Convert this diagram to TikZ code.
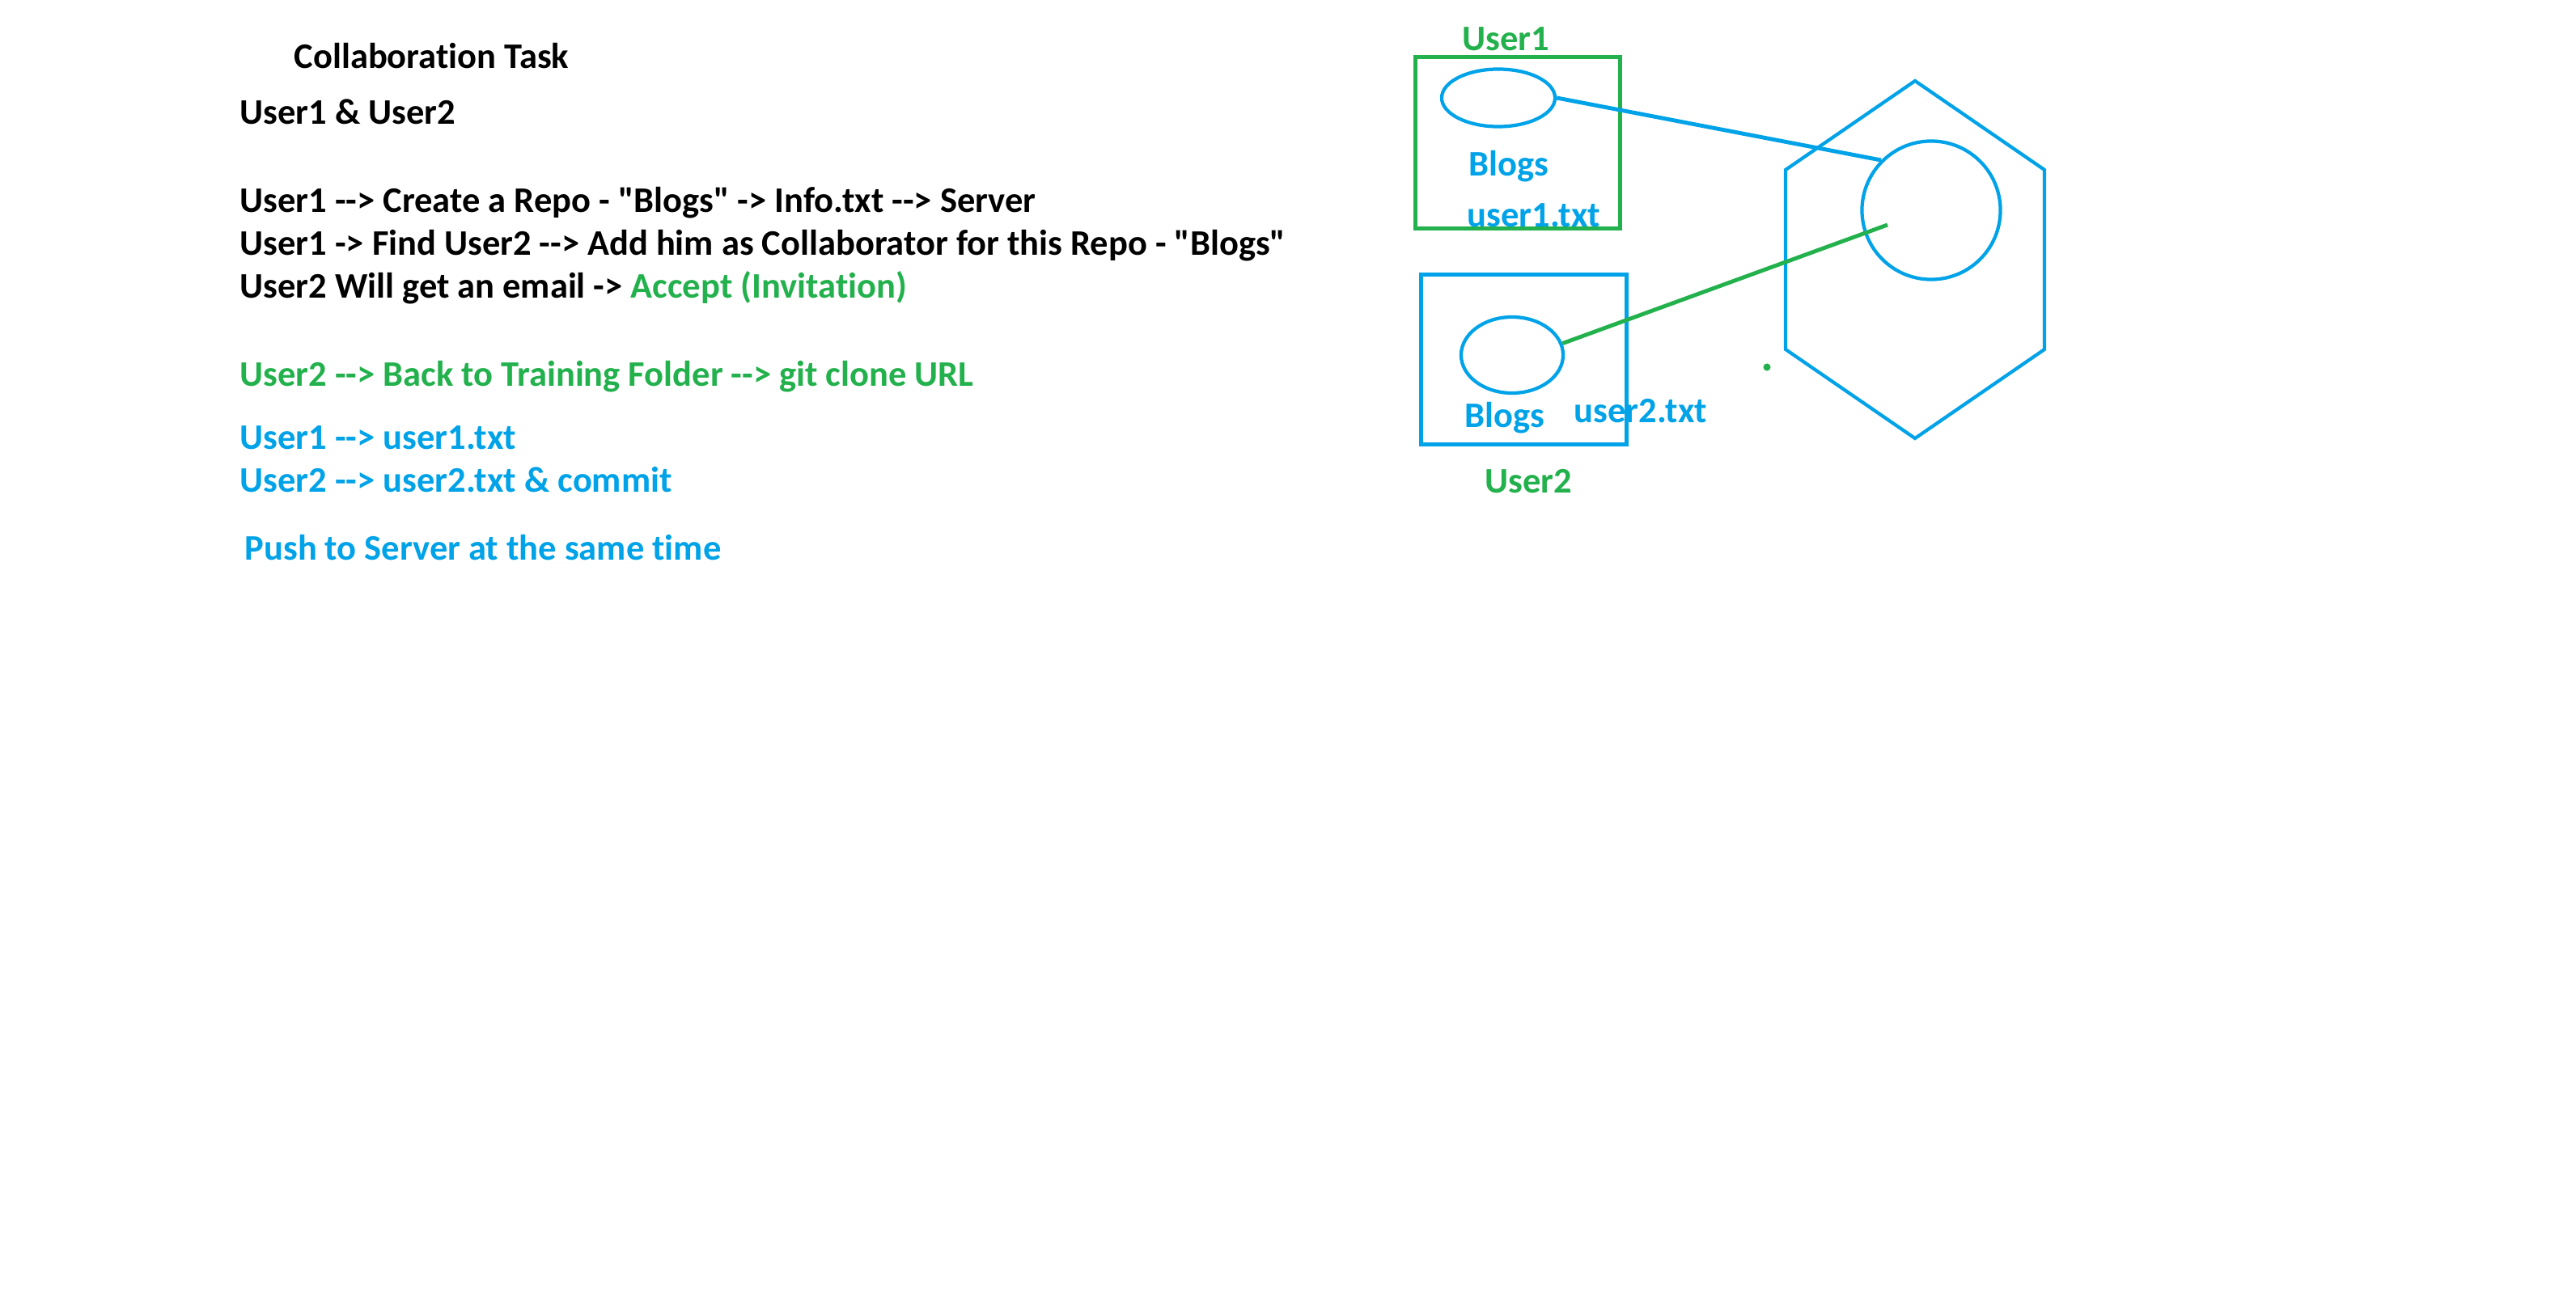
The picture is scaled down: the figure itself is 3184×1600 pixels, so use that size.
\documentclass[tikz,border=0pt]{standalone}
\usepackage{fontspec}
\setmainfont{Carlito}[Ligatures={TeXOff,NoCommon}]
\usepackage{tikz}
\usetikzlibrary{shapes.geometric}
\tikzset{>=latex}
\definecolor{paintgreen}{HTML}{22B14C}
\definecolor{paintblue}{HTML}{00A2E8}

\begin{document}
\begin{tikzpicture}[x=0.01cm,y=-0.01cm,
	txtnode/.style={anchor=base west,inner sep=0pt,font=\fontsize{12.65}{15}\selectfont\bfseries},
	boxnode/.style={rectangle,draw,line width=1.45pt,inner sep=0pt},
	blobnode/.style={ellipse,draw=paintblue,line width=1.2pt,inner sep=0pt}]

	\useasboundingbox[fill=white] (0,0) rectangle (3184,1600);

	\node[txtnode] (title) at (363,85) {Collaboration Task};
	\node[txtnode] (users) at (296,154) {User1 \& User2};
	\node[txtnode] (step1) at (296,262) {User1 --> Create a Repo - "Blogs" -> Info.txt --> Server};
	\node[txtnode] (step2) at (296,316) {User1 -> Find User2 --> Add him as Collaborator for this Repo - "Blogs"};
	\node[txtnode] (step3) at (296,368) {User2 Will get an email -> \textcolor{paintgreen}{Accept (Invitation)}};
	\node[txtnode,text=paintgreen] (step4) at (296,477) {User2 --> Back to Training Folder --> git clone URL};
	\node[txtnode,text=paintblue] (step5) at (296,555) {User1 --> user1.txt};
	\node[txtnode,text=paintblue] (step6) at (296,608) {User2 --> user2.txt \& commit};
	\node[txtnode,text=paintblue] (step7) at (302,692) {Push to Server at the same time};

	\node[boxnode,draw=paintgreen,minimum width=2.52cm,minimum height=2.11cm] (box1) at (1876,176.5) {};
	\node[boxnode,draw=paintblue,minimum width=2.53cm,minimum height=2.09cm] (box2) at (1883.5,444.5) {};
	\node[txtnode,text=paintgreen] (user1) at (1807,63) {User1};
	\node[txtnode,text=paintgreen] (user2) at (1835,609) {User2};

	\node[blobnode,minimum width=1.40cm,minimum height=0.71cm] (blogs1) at (1852,121) {};
	\node[blobnode,minimum width=1.26cm,minimum height=0.94cm] (blogs2) at (1869,439) {};
	\node[txtnode,text=paintblue] (name1) at (1815,218) {Blogs};
	\node[txtnode,text=paintblue] (file1) at (1813,281) {user1.txt};
	\node[txtnode,text=paintblue] (name2) at (1810,528) {Blogs};
	\node[txtnode,text=paintblue] (file2) at (1945,522) {user2.txt};

	\draw[paintblue,line width=1.2pt,line join=miter] (2367,100) -- (2527,210) -- (2527,432) -- (2367,542) -- (2207,432) -- (2207,210) -- cycle;
	\node[circle,draw=paintblue,line width=1.2pt,inner sep=0pt,minimum size=1.71cm] (repo) at (2387,260) {};
	\coordinate (clonept) at (2333,278);

	\draw[paintblue,line width=1.4pt] (blogs1.east) -- (repo.135);
	\draw[paintgreen,line width=1.4pt] (blogs2.13) -- (clonept);
	\fill[paintgreen] (2184,454) circle[radius=1.3pt];
\end{tikzpicture}
\end{document}
